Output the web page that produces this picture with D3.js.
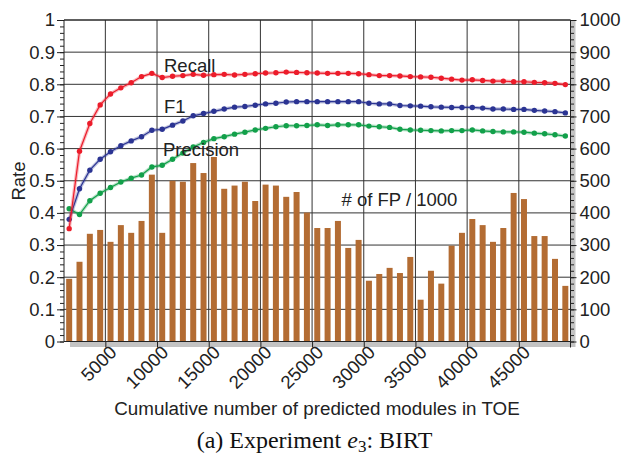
<!DOCTYPE html>
<html>
<head>
<meta charset="utf-8">
<script src="https://cdn.jsdelivr.net/npm/d3@7"></script>
<style>
  body { margin: 0; background: #fff; }
  svg text { font-family: "Liberation Sans", Arial, Helvetica, sans-serif; fill: #222; }
</style>
</head>
<body>
<div id="chart"></div>
<script>

// cumulative number of predicted modules (one point per 1000 modules)
const modules = [1500, 2500, 3500, 4500, 5500, 6500, 7500, 8500, 9500, 10500,
  11500, 12500, 13500, 14500, 15500, 16500, 17500, 18500, 19500, 20500,
  21500, 22500, 23500, 24500, 25500, 26500, 27500, 28500, 29500, 30500,
  31500, 32500, 33500, 34500, 35500, 36500, 37500, 38500, 39500, 40500,
  41500, 42500, 43500, 44500, 45500, 46500, 47500, 48500, 49500];

const recall = [0.351, 0.592, 0.678, 0.736, 0.770, 0.789, 0.805, 0.824, 0.834, 0.821,
  0.825, 0.827, 0.831, 0.828, 0.830, 0.831, 0.829, 0.831, 0.833, 0.835,
  0.836, 0.838, 0.837, 0.836, 0.835, 0.834, 0.834, 0.834, 0.833, 0.830,
  0.827, 0.827, 0.826, 0.824, 0.823, 0.822, 0.819, 0.816, 0.813, 0.814,
  0.812, 0.810, 0.810, 0.808, 0.808, 0.806, 0.805, 0.803, 0.799];

const f1 = [0.380, 0.475, 0.533, 0.567, 0.590, 0.609, 0.624, 0.637, 0.657, 0.660,
  0.673, 0.686, 0.702, 0.709, 0.716, 0.723, 0.729, 0.731, 0.735, 0.739,
  0.741, 0.745, 0.746, 0.746, 0.746, 0.746, 0.746, 0.746, 0.746, 0.741,
  0.739, 0.739, 0.734, 0.733, 0.732, 0.730, 0.729, 0.728, 0.728, 0.728,
  0.726, 0.723, 0.723, 0.722, 0.722, 0.719, 0.717, 0.715, 0.711];

const precision = [0.413, 0.395, 0.438, 0.461, 0.479, 0.496, 0.508, 0.518, 0.543, 0.548,
  0.567, 0.586, 0.605, 0.619, 0.631, 0.637, 0.645, 0.651, 0.658, 0.663,
  0.668, 0.671, 0.671, 0.672, 0.674, 0.672, 0.674, 0.674, 0.674, 0.670,
  0.668, 0.666, 0.660, 0.658, 0.657, 0.656, 0.655, 0.656, 0.656, 0.658,
  0.655, 0.653, 0.652, 0.652, 0.651, 0.648, 0.646, 0.643, 0.639];

// number of false positives per 1000 modules
const fpCount = [195, 248, 335, 347, 310, 362, 338, 375, 519, 338,
  500, 497, 555, 524, 574, 475, 485, 497, 437, 488,
  485, 450, 465, 401, 353, 353, 375, 291, 316, 189,
  210, 229, 213, 263, 130, 220, 180, 298, 338, 381,
  362, 310, 353, 462, 443, 328, 328, 257, 173];

const xTicks = [5000, 10000, 15000, 20000, 25000, 30000, 35000, 40000, 45000];
const rateTicks = [0, 0.1, 0.2, 0.3, 0.4, 0.5, 0.6, 0.7, 0.8, 0.9, 1];
const rateLabels = ["0", "0.1", "0.2", "0.3", "0.4", "0.5", "0.6", "0.7", "0.8", "0.9", "1"];
const fpTicks = [0, 100, 200, 300, 400, 500, 600, 700, 800, 900, 1000];

const width = 621, height = 454;
const plot = {left: 64, right: 570.5, top: 20, bottom: 341.5};

const x = d3.scaleLinear().domain([1000, 50000]).range([plot.left, plot.right]);
const yRate = d3.scaleLinear().domain([0, 1]).range([plot.bottom, plot.top]);
const yFp = d3.scaleLinear().domain([0, 1000]).range([plot.bottom, plot.top]);

const svg = d3.select("#chart")
  .append("svg")
  .attr("width", width)
  .attr("height", height);

// gray bands along the bottom and right axes
svg.append("rect")
  .attr("x", 70).attr("y", plot.bottom)
  .attr("width", plot.right - 70).attr("height", 5.5)
  .attr("fill", "#c3c3c3");
svg.append("rect")
  .attr("x", plot.right).attr("y", plot.top)
  .attr("width", 5).attr("height", plot.bottom - plot.top + 5.5)
  .attr("fill", "#c3c3c3");

// grid
const grid = svg.append("g").attr("stroke", "#333").attr("stroke-width", 1);
grid.selectAll(".h")
  .data(rateTicks)
  .enter()
  .append("line")
  .attr("x1", plot.left).attr("x2", plot.right)
  .attr("y1", function (d) { return yRate(d); })
  .attr("y2", function (d) { return yRate(d); });
grid.selectAll(".v")
  .data(xTicks)
  .enter()
  .append("line")
  .attr("x1", function (d) { return x(d); })
  .attr("x2", function (d) { return x(d); })
  .attr("y1", plot.top).attr("y2", plot.bottom);

// bars (# of FP / 1000) on the right scale
const barWidth = (x(1000) - x(0)) * 0.58;
svg.append("g")
  .selectAll("rect")
  .data(fpCount)
  .enter()
  .append("rect")
  .attr("x", function (d, i) { return x(modules[i]) - barWidth / 2; })
  .attr("y", function (d) { return yFp(d); })
  .attr("width", barWidth)
  .attr("height", function (d) { return yFp(0) - yFp(d); })
  .attr("fill", "#b36c33");

// axes
const leftAxis = d3.axisLeft(yRate)
  .tickValues(rateTicks)
  .tickSize(7)
  .tickPadding(2)
  .tickFormat(function (d, i) { return rateLabels[i]; });
const leftMinor = d3.axisLeft(yRate)
  .tickValues(d3.range(0, 1.001, 0.02))
  .tickSize(4)
  .tickFormat("");
const rightAxis = d3.axisRight(yFp)
  .tickValues(fpTicks)
  .tickSize(6)
  .tickPadding(3)
  .tickFormat(d3.format("d"));
const rightMinor = d3.axisRight(yFp)
  .tickValues(d3.range(0, 1001, 20))
  .tickSize(3.5)
  .tickFormat("");
const bottomAxis = d3.axisBottom(x)
  .tickValues(xTicks)
  .tickSize(6)
  .tickFormat(d3.format("d"));

function styleAxis(g) {
  g.select(".domain").remove();
  g.selectAll("line").attr("stroke", "#222");
  g.selectAll("text").attr("font-size", "18.5px").attr("fill", "#222")
    .attr("font-family", "Liberation Sans, Arial, sans-serif");
}

svg.append("g").attr("transform", "translate(" + plot.left + ",0)").call(leftMinor).call(styleAxis);
svg.append("g").attr("transform", "translate(" + plot.left + ",0)").call(leftAxis).call(styleAxis);
svg.append("g").attr("transform", "translate(" + plot.right + ",0)").call(rightMinor).call(styleAxis);
svg.append("g").attr("transform", "translate(" + plot.right + ",0)").call(rightAxis).call(styleAxis);

const xAxisG = svg.append("g")
  .attr("transform", "translate(0," + plot.bottom + ")")
  .call(bottomAxis)
  .call(styleAxis);
xAxisG.selectAll("text")
  .attr("text-anchor", "end")
  .attr("dy", null)
  .attr("y", 0)
  .attr("transform", "translate(12,12) rotate(-45)");

// frame
const frame = svg.append("g").attr("stroke", "#222").attr("stroke-width", 1).attr("fill", "none");
frame.append("line").attr("x1", plot.left).attr("x2", plot.right).attr("y1", plot.top).attr("y2", plot.top);
frame.append("line").attr("x1", plot.left).attr("x2", plot.right).attr("y1", plot.bottom).attr("y2", plot.bottom);
frame.append("line").attr("x1", plot.left).attr("x2", plot.left).attr("y1", plot.top).attr("y2", plot.bottom);
frame.append("line").attr("x1", plot.right).attr("x2", plot.right).attr("y1", plot.top).attr("y2", plot.bottom + 6);

// lines with markers
const series = [
  {values: precision, color: "#12a04a"},
  {values: f1, color: "#2b3493"},
  {values: recall, color: "#ec1c2a"}
];

const line = d3.line()
  .x(function (d, i) { return x(modules[i]); })
  .y(function (d) { return yRate(d); });

series.forEach(function (s) {
  const g = svg.append("g");
  g.append("path")
    .datum(s.values)
    .attr("d", line)
    .attr("fill", "none")
    .attr("stroke", s.color)
    .attr("stroke-opacity", 0.3)
    .attr("stroke-width", 3.5);
  g.append("path")
    .datum(s.values)
    .attr("d", line)
    .attr("fill", "none")
    .attr("stroke", s.color)
    .attr("stroke-width", 1.2);
  g.selectAll("circle")
    .data(s.values)
    .enter()
    .append("circle")
    .attr("cx", function (d, i) { return x(modules[i]); })
    .attr("cy", function (d) { return yRate(d); })
    .attr("r", 2.7)
    .attr("fill", s.color);
});

// series labels
const labels = svg.append("g").attr("font-size", "18.5px");
labels.append("text").attr("x", 164).attr("y", 72).text("Recall");
labels.append("text").attr("x", 164).attr("y", 113).text("F1");
labels.append("text").attr("x", 163).attr("y", 156).text("Precision");
labels.append("text").attr("x", 341.5).attr("y", 206).text("# of FP / 1000");

// axis titles
svg.append("text")
  .attr("x", 317).attr("y", 415)
  .attr("text-anchor", "middle")
  .attr("font-size", "18.8px")
  .text("Cumulative number of predicted modules in TOE");

svg.append("text")
  .attr("transform", "translate(25,181) rotate(-90)")
  .attr("text-anchor", "middle")
  .attr("font-size", "18.5px")
  .text("Rate");

// caption
const caption = svg.append("text")
  .attr("x", 314.5).attr("y", 448)
  .attr("text-anchor", "middle")
  .attr("font-size", "24px")
  .style("font-family", "'Liberation Serif', 'Times New Roman', serif")
  .style("fill", "#111");
caption.append("tspan").text("(a) Experiment ");
caption.append("tspan").style("font-style", "italic").text("e");
caption.append("tspan").attr("font-size", "17px").attr("dy", 3.5).text("3");
caption.append("tspan").attr("dy", -3.5).text(": BIRT");
</script>
</body>
</html>
